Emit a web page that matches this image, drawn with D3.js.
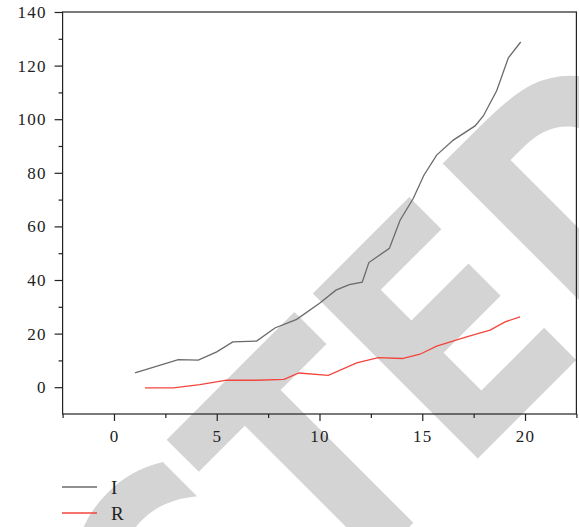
<!DOCTYPE html>
<html>
<head>
<meta charset="utf-8">
<script src="https://cdn.jsdelivr.net/npm/d3@7"></script>
<style>
  body { margin: 0; background: #fff; }
  svg { display: block; }
  .tick text { font-family: "Liberation Serif", serif; font-size: 17px; fill: #222; letter-spacing: 1.2px; }
  .legend text { font-family: "Liberation Serif", serif; font-size: 19px; fill: #222; }
</style>
</head>
<body>
<div id="chart"></div>
<script>
// days and the two series
var iDays = [1.02, 3.13, 4.10, 5.00, 5.78, 6.94, 7.83, 8.89, 10.02, 10.80, 11.45, 12.08, 12.40, 13.40, 13.92, 14.56, 15.08, 15.70, 16.51, 17.57, 17.97, 18.62, 19.19, 19.79];
var iValues = [5.3, 10.3, 10.1, 13.2, 16.9, 17.2, 22.1, 25.3, 31.4, 36.2, 38.3, 39.2, 46.5, 51.8, 62.3, 70.4, 79.1, 86.6, 92.2, 97.5, 101.2, 110.6, 122.9, 128.8];
var rDays = [1.51, 2.89, 4.18, 5.48, 6.94, 8.27, 9.00, 10.43, 11.81, 12.86, 14.02, 14.89, 15.70, 17.20, 18.30, 19.03, 19.76];
var rValues = [-0.25, -0.25, 1.0, 2.6, 2.6, 2.9, 5.3, 4.4, 9.1, 11.0, 10.7, 12.3, 15.3, 18.9, 21.3, 24.4, 26.2];
var xMajor = [0, 5, 10, 15, 20];
var xMinor = [-2.5, 2.5, 7.5, 12.5, 17.5, 22.5];
var yMajor = [0, 20, 40, 60, 80, 100, 120, 140];
var yMinor = [10, 30, 50, 70, 90, 110, 130];
var legendNames = ["I", "R"];
var colors = ["#6a6a6a", "#f2453d"];

var width = 579, height = 527;
var mLeft = 62.6, mRight = 576.4, mTop = 12, mBottom = 414;

var svg = d3.select("#chart").append("svg")
    .attr("width", width)
    .attr("height", height);

// watermark, rotated so local x/y run along the diagonals
var wm = svg.append("g").attr("transform", "rotate(-45)");
var wt = wm.append("text")
    .attr("transform", "scale(0.84,1)")
    .attr("y", 662)
    .style("font-family", "DejaVu Sans")
    .style("font-weight", "bold")
    .style("font-size", "320px")
    .attr("fill", "#d4d4d4")
    .text("RETRACTED");
var sx = wt.node().getStartPositionOfChar(7).x;
wt.attr("x", -11 / 0.84 - sx);

var x = d3.scaleLinear().domain([-2.5, 22.5]).range([mLeft, mRight]);
var y = d3.scaleLinear().domain([-10, 140]).range([mBottom, mTop]);

// frame
svg.append("rect")
    .attr("x", mLeft).attr("y", mTop)
    .attr("width", mRight - mLeft).attr("height", mBottom - mTop)
    .attr("fill", "none").attr("stroke", "#222").attr("stroke-width", 1.2);

// x axis
svg.append("g")
    .attr("transform", "translate(0," + mBottom + ")")
    .call(d3.axisBottom(x).tickValues(xMinor).tickSize(4).tickFormat(""))
    .call(function(g){ g.select(".domain").remove(); });
svg.append("g")
    .attr("transform", "translate(0," + mBottom + ")")
    .call(d3.axisBottom(x).tickValues(xMajor).tickSize(7).tickPadding(9).tickFormat(d3.format("d")))
    .call(function(g){ g.select(".domain").remove(); });

// y axis
svg.append("g")
    .attr("transform", "translate(" + mLeft + ",0)")
    .call(d3.axisLeft(y).tickValues(yMinor).tickSize(4).tickFormat(""))
    .call(function(g){ g.select(".domain").remove(); });
svg.append("g")
    .attr("transform", "translate(" + mLeft + ",0)")
    .call(d3.axisLeft(y).tickValues(yMajor).tickSize(8).tickPadding(8).tickFormat(d3.format("d")))
    .call(function(g){ g.select(".domain").remove(); });

svg.selectAll(".tick line").attr("stroke", "#222").attr("stroke-width", 1.2);

// lines
var line = d3.line()
    .x(function(d){ return x(d[0]); })
    .y(function(d){ return y(d[1]); });

var series = [d3.zip(iDays, iValues), d3.zip(rDays, rValues)];
svg.selectAll(".series")
    .data(series)
    .enter().append("path")
    .attr("class", "series")
    .attr("d", line)
    .attr("fill", "none")
    .attr("stroke", function(d, i){ return colors[i]; })
    .attr("stroke-width", 1.3);

// legend
var legend = svg.append("g").attr("class", "legend");
legendNames.forEach(function(name, i){
    var ly = 487 + i * 26;
    legend.append("line")
        .attr("x1", 62).attr("x2", 97)
        .attr("y1", ly).attr("y2", ly)
        .attr("stroke", colors[i]).attr("stroke-width", 1.3);
    legend.append("text")
        .attr("x", 111).attr("y", ly)
        .attr("dy", "0.35em")
        .text(name);
});
</script>
</body>
</html>
